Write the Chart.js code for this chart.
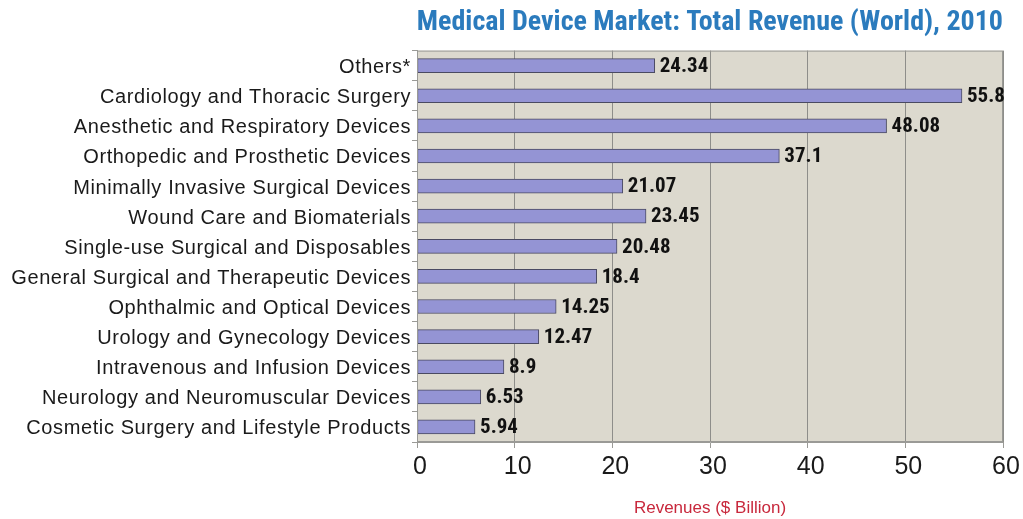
<!DOCTYPE html>
<html>
<head>
<meta charset="utf-8">
<script src="https://cdn.jsdelivr.net/npm/chart.js@4.4.1/dist/chart.umd.min.js"></script>
<style>
  html, body { margin: 0; padding: 0; background: #ffffff; }
  #wrap { width: 1023px; height: 519px; }
</style>
</head>
<body>
<div id="wrap"><canvas id="c" width="1023" height="519"></canvas></div>
<script>
const categories = [
  'Others*',
  'Cardiology and Thoracic Surgery',
  'Anesthetic and Respiratory Devices',
  'Orthopedic and Prosthetic Devices',
  'Minimally Invasive Surgical Devices',
  'Wound Care and Biomaterials',
  'Single-use Surgical and Disposables',
  'General Surgical and Therapeutic Devices',
  'Ophthalmic and Optical Devices',
  'Urology and Gynecology Devices',
  'Intravenous and Infusion Devices',
  'Neurology and Neuromuscular Devices',
  'Cosmetic Surgery and Lifestyle Products'
];
const revenues = [24.34, 55.8, 48.08, 37.1, 21.07, 23.45, 20.48, 18.4, 14.25, 12.47, 8.9, 6.53, 5.94];
const valueLabels = ['24.34', '55.8', '48.08', '37.1', '21.07', '23.45', '20.48', '18.4', '14.25', '12.47', '8.9', '6.53', '5.94'];
const xTicks = [0, 10, 20, 30, 40, 50, 60];

const NARROW = "'Liberation Sans Narrow', 'Arial Narrow', 'Roboto Condensed', 'Liberation Sans', sans-serif";
const SANS = "'Liberation Sans', Arial, sans-serif";

// Plot background, frame, and slightly wider letter spacing for the category labels
const plotFrame = {
  id: 'plotFrame',
  afterLayout(chart) {
    const scale = chart.scales.y;
    const base = Object.getPrototypeOf(scale).drawLabels;
    scale.drawLabels = function (...args) {
      const ctx = this.ctx;
      const prev = ctx.letterSpacing;
      ctx.letterSpacing = '0.6px';
      base.apply(this, args);
      ctx.letterSpacing = prev || '0px';
    };
  },
  beforeDraw(chart) {
    const { ctx, chartArea: a } = chart;
    ctx.save();
    ctx.fillStyle = '#dcd9ce';
    ctx.fillRect(a.left, a.top, a.right - a.left, a.bottom - a.top);
    ctx.restore();
  },
  afterDatasetsDraw(chart) {
    const { ctx, chartArea: a } = chart;
    ctx.save();
    ctx.strokeStyle = '#9a9a96';
    ctx.lineWidth = 1;
    ctx.strokeRect(a.left + 0.5, a.top + 0.5, a.right - a.left - 1, a.bottom - a.top - 1);
    ctx.restore();
  }
};

// Value labels at the end of each bar
const barValues = {
  id: 'barValues',
  afterDatasetsDraw(chart) {
    const { ctx } = chart;
    const meta = chart.getDatasetMeta(0);
    ctx.save();
    ctx.font = "bold 21px " + NARROW;
    ctx.fillStyle = '#111111';
    ctx.textAlign = 'left';
    ctx.textBaseline = 'middle';
    meta.data.forEach((bar, i) => {
      ctx.fillText(valueLabels[i], bar.x + 5, bar.y + 1);
    });
    ctx.restore();
  }
};

new Chart(document.getElementById('c'), {
  type: 'bar',
  data: {
    labels: categories,
    datasets: [{
      data: revenues,
      backgroundColor: '#9494d4',
      borderColor: '#4a4a62',
      borderWidth: 1,
      borderSkipped: false,
      barThickness: 14
    }]
  },
  options: {
    indexAxis: 'y',
    responsive: false,
    animation: false,
    devicePixelRatio: 1,
    layout: { padding: { left: 0, right: 20, top: 0, bottom: 0 } },
    plugins: {
      legend: { display: false },
      tooltip: { enabled: false },
      title: {
        display: true,
        text: 'Medical Device Market: Total Revenue (World), 2010',
        align: 'end',
        color: '#2b7bbd',
        font: { family: NARROW, size: 28, weight: 'bold', lineHeight: 1.2 },
        padding: { top: 6, bottom: 11 }
      }
    },
    scales: {
      x: {
        type: 'linear',
        min: 0,
        max: 60,
        afterBuildTicks(axis) { axis.ticks = xTicks.map(v => ({ value: v })); },
        afterFit(axis) { axis.height = 77; },
        grid: {
          color: '#8e8e8a',
          lineWidth: 1,
          drawTicks: true,
          tickLength: 6,
          tickColor: '#9a9a96'
        },
        border: { display: true, color: '#9a9a96' },
        ticks: {
          color: '#1a1a1a',
          font: { family: SANS, size: 25 },
          padding: 4,
          labelOffset: 3
        },
        title: {
          display: true,
          text: 'Revenues ($ Billion)',
          color: '#c8283c',
          font: { family: SANS, size: 17 },
          padding: { top: 8, bottom: 0 }
        }
      },
      y: {
        type: 'category',
        afterFit(axis) { axis.width = 417; },
        grid: {
          offset: true,
          drawOnChartArea: false,
          drawTicks: true,
          tickLength: 5,
          tickColor: '#9a9a96'
        },
        border: { display: true, color: '#9a9a96' },
        ticks: {
          color: '#1a1a1a',
          font: { family: SANS, size: 20 },
          padding: 1,
          labelOffset: 2
        }
      }
    }
  },
  plugins: [plotFrame, barValues]
});
</script>
</body>
</html>
